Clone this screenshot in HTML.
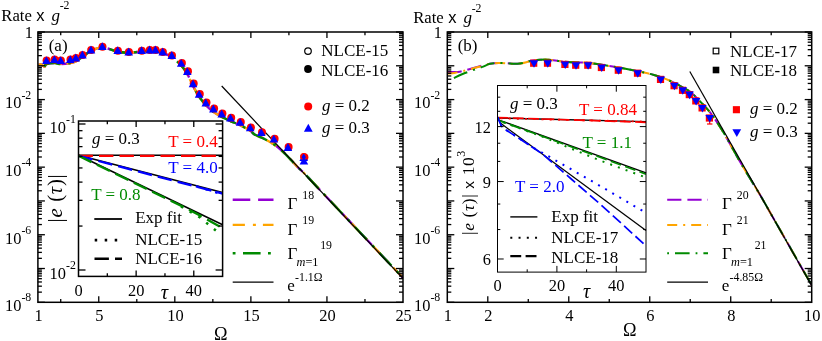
<!DOCTYPE html>
<html><head><meta charset="utf-8"><title>chart</title>
<style>html,body{margin:0;padding:0;background:#fff;}svg{display:block;will-change:transform;}</style></head><body>
<svg width="822" height="341" viewBox="0 0 822 341">
<rect x="0" y="0" width="822" height="341" fill="#fff"/>
<defs><clipPath id="clipL"><rect x="37.9" y="32.0" width="365.1" height="270.3"/></clipPath>
<clipPath id="clipR"><rect x="447.3" y="32.0" width="364.40000000000003" height="270.3"/></clipPath></defs>
<path d="M38.50,64.80 C38.92,64.75 39.97,64.20 41.00,64.50 C42.03,64.80 43.80,66.68 44.70,66.60 C45.60,66.52 44.78,64.60 46.40,64.00 C48.02,63.40 52.02,63.00 54.40,63.00 C56.78,63.00 58.05,64.00 60.70,64.00 C63.35,64.00 67.78,63.43 70.30,63.00 C72.82,62.57 73.78,62.40 75.80,61.40 C77.82,60.40 79.87,58.77 82.40,57.00 C84.93,55.23 87.68,52.38 91.00,50.80 C94.32,49.22 97.85,47.38 102.30,47.50 C106.75,47.62 113.30,50.62 117.70,51.50 C122.10,52.38 124.72,52.80 128.70,52.80 C132.68,52.80 138.12,51.83 141.60,51.50 C145.08,51.17 147.30,50.92 149.60,50.80 C151.90,50.68 153.22,50.47 155.40,50.80 C157.58,51.13 159.97,51.75 162.70,52.80 C165.43,53.85 168.72,54.98 171.80,57.10 C174.88,59.22 178.62,62.70 181.20,65.50 C183.78,68.30 185.33,70.48 187.30,73.90 C189.27,77.32 191.03,82.23 193.00,86.00 C194.97,89.77 196.97,93.30 199.10,96.50 C201.23,99.70 203.42,102.63 205.80,105.20 C208.18,107.77 210.75,109.95 213.40,111.90 C216.05,113.85 218.85,115.37 221.70,116.90 C224.55,118.43 227.43,119.72 230.50,121.10 C233.57,122.48 236.82,123.60 240.10,125.20 C243.38,126.80 247.80,129.15 250.20,130.70 C252.60,132.25 252.65,133.37 254.50,134.50 C256.35,135.63 259.25,136.53 261.30,137.50 C263.35,138.47 265.02,139.33 266.80,140.30 C268.58,141.27 270.25,142.22 272.00,143.30 C273.75,144.38 275.53,145.45 277.30,146.80 C279.07,148.15 280.82,149.73 282.60,151.40 C284.38,153.07 286.38,155.15 288.00,156.80 C289.62,158.45 290.63,159.52 292.30,161.30 C293.97,163.08 295.98,165.47 298.00,167.50 C300.02,169.53 300.73,169.75 304.40,173.50 C308.07,177.25 314.07,183.72 320.00,190.00 C325.93,196.28 326.10,196.48 340.00,211.20 C353.90,225.92 392.83,267.12 403.40,278.30" fill="none" stroke="#9400d3" stroke-width="2.4" stroke-dasharray="17.6 7.6" clip-path="url(#clipL)"/>
<path d="M38.50,64.80 C38.92,64.75 39.97,64.20 41.00,64.50 C42.03,64.80 43.80,66.68 44.70,66.60 C45.60,66.52 44.78,64.60 46.40,64.00 C48.02,63.40 52.02,63.00 54.40,63.00 C56.78,63.00 58.05,64.00 60.70,64.00 C63.35,64.00 67.78,63.43 70.30,63.00 C72.82,62.57 73.78,62.40 75.80,61.40 C77.82,60.40 79.87,58.77 82.40,57.00 C84.93,55.23 87.68,52.38 91.00,50.80 C94.32,49.22 97.85,47.38 102.30,47.50 C106.75,47.62 113.30,50.62 117.70,51.50 C122.10,52.38 124.72,52.80 128.70,52.80 C132.68,52.80 138.12,51.83 141.60,51.50 C145.08,51.17 147.30,50.92 149.60,50.80 C151.90,50.68 153.22,50.47 155.40,50.80 C157.58,51.13 159.97,51.75 162.70,52.80 C165.43,53.85 168.72,54.98 171.80,57.10 C174.88,59.22 178.62,62.70 181.20,65.50 C183.78,68.30 185.33,70.48 187.30,73.90 C189.27,77.32 191.03,82.23 193.00,86.00 C194.97,89.77 196.97,93.30 199.10,96.50 C201.23,99.70 203.42,102.63 205.80,105.20 C208.18,107.77 210.75,109.95 213.40,111.90 C216.05,113.85 218.85,115.37 221.70,116.90 C224.55,118.43 227.43,119.72 230.50,121.10 C233.57,122.48 236.82,123.60 240.10,125.20 C243.38,126.80 247.80,129.15 250.20,130.70 C252.60,132.25 252.65,133.37 254.50,134.50 C256.35,135.63 259.25,136.53 261.30,137.50 C263.35,138.47 265.02,139.33 266.80,140.30 C268.58,141.27 270.25,142.22 272.00,143.30 C273.75,144.38 275.53,145.45 277.30,146.80 C279.07,148.15 280.82,149.73 282.60,151.40 C284.38,153.07 286.38,155.15 288.00,156.80 C289.62,158.45 290.63,159.52 292.30,161.30 C293.97,163.08 295.98,165.47 298.00,167.50 C300.02,169.53 300.73,169.75 304.40,173.50 C308.07,177.25 314.07,183.72 320.00,190.00 C325.93,196.28 326.10,196.48 340.00,211.20 C353.90,225.92 392.83,267.12 403.40,278.30" fill="none" stroke="#ffa500" stroke-width="2.4" stroke-dasharray="12.3 7.5 2.8 7.5" clip-path="url(#clipL)"/>
<path d="M44.70,66.60 C44.98,66.17 44.78,64.60 46.40,64.00 C48.02,63.40 52.02,63.00 54.40,63.00 C56.78,63.00 58.05,64.00 60.70,64.00 C63.35,64.00 67.78,63.43 70.30,63.00 C72.82,62.57 73.78,62.40 75.80,61.40 C77.82,60.40 79.87,58.77 82.40,57.00 C84.93,55.23 87.68,52.38 91.00,50.80 C94.32,49.22 97.85,47.38 102.30,47.50 C106.75,47.62 113.30,50.62 117.70,51.50 C122.10,52.38 124.72,52.80 128.70,52.80 C132.68,52.80 138.12,51.83 141.60,51.50 C145.08,51.17 147.30,50.92 149.60,50.80 C151.90,50.68 153.22,50.47 155.40,50.80 C157.58,51.13 159.97,51.75 162.70,52.80 C165.43,53.85 168.72,54.98 171.80,57.10 C174.88,59.22 178.62,62.70 181.20,65.50 C183.78,68.30 185.33,70.48 187.30,73.90 C189.27,77.32 191.03,82.23 193.00,86.00 C194.97,89.77 196.97,93.30 199.10,96.50 C201.23,99.70 203.42,102.63 205.80,105.20 C208.18,107.77 210.75,109.95 213.40,111.90 C216.05,113.85 218.85,115.37 221.70,116.90 C224.55,118.43 227.43,119.72 230.50,121.10 C233.57,122.48 236.82,123.60 240.10,125.20 C243.38,126.80 247.80,129.15 250.20,130.70 C252.60,132.25 252.65,133.37 254.50,134.50 C256.35,135.63 259.25,136.53 261.30,137.50 C263.35,138.47 265.02,139.33 266.80,140.30 C268.58,141.27 270.25,142.22 272.00,143.30 C273.75,144.38 275.53,145.45 277.30,146.80 C279.07,148.15 280.82,149.73 282.60,151.40 C284.38,153.07 286.38,155.15 288.00,156.80 C289.62,158.45 290.63,159.52 292.30,161.30 C293.97,163.08 295.98,165.47 298.00,167.50 C300.02,169.53 300.73,169.75 304.40,173.50 C308.07,177.25 314.07,183.72 320.00,190.00 C325.93,196.28 326.10,196.48 340.00,211.20 C353.90,225.92 392.83,267.12 403.40,278.30" fill="none" stroke="#008b00" stroke-width="2.4" stroke-dasharray="17.6 7.5 2.8 7.5" clip-path="url(#clipL)"/>
<line x1="221.70" y1="86.00" x2="403.00" y2="278.40" stroke="#000" stroke-width="1.2" />
<circle cx="46.60" cy="60.60" r="4.0" fill="#ff0000" />
<circle cx="54.60" cy="59.60" r="4.0" fill="#ff0000" />
<circle cx="60.90" cy="60.60" r="4.0" fill="#ff0000" />
<circle cx="70.50" cy="59.60" r="4.0" fill="#ff0000" />
<circle cx="76.00" cy="58.00" r="4.0" fill="#ff0000" />
<circle cx="82.60" cy="55.00" r="4.0" fill="#ff0000" />
<circle cx="91.20" cy="50.00" r="4.0" fill="#ff0000" />
<circle cx="102.50" cy="46.70" r="4.0" fill="#ff0000" />
<circle cx="117.90" cy="50.70" r="4.0" fill="#ff0000" />
<circle cx="128.90" cy="52.00" r="4.0" fill="#ff0000" />
<circle cx="141.80" cy="50.70" r="4.0" fill="#ff0000" />
<circle cx="149.80" cy="50.00" r="4.0" fill="#ff0000" />
<circle cx="155.60" cy="50.00" r="4.0" fill="#ff0000" />
<circle cx="162.90" cy="52.00" r="4.0" fill="#ff0000" />
<circle cx="172.00" cy="55.50" r="4.0" fill="#ff0000" />
<circle cx="181.90" cy="62.90" r="4.0" fill="#ff0000" />
<circle cx="188.00" cy="71.30" r="4.0" fill="#ff0000" />
<circle cx="193.70" cy="83.40" r="4.0" fill="#ff0000" />
<circle cx="199.80" cy="93.90" r="4.0" fill="#ff0000" />
<circle cx="206.50" cy="102.60" r="4.0" fill="#ff0000" />
<circle cx="214.10" cy="108.60" r="4.0" fill="#ff0000" />
<circle cx="222.40" cy="113.60" r="4.0" fill="#ff0000" />
<circle cx="231.20" cy="117.80" r="4.0" fill="#ff0000" />
<circle cx="240.80" cy="121.90" r="4.0" fill="#ff0000" />
<circle cx="250.90" cy="127.40" r="4.0" fill="#ff0000" />
<circle cx="262.00" cy="132.20" r="4.0" fill="#ff0000" />
<circle cx="274.60" cy="138.70" r="4.0" fill="#ff0000" />
<circle cx="288.60" cy="147.10" r="4.0" fill="#ff0000" />
<circle cx="304.40" cy="157.20" r="4.0" fill="#ff0000" />
<polygon points="46.40,56.20 42.10,63.98 50.70,63.98" fill="#0000ff" />
<polygon points="54.40,55.20 50.10,62.98 58.70,62.98" fill="#0000ff" />
<polygon points="60.70,56.20 56.40,63.98 65.00,63.98" fill="#0000ff" />
<polygon points="70.30,55.20 66.00,62.98 74.60,62.98" fill="#0000ff" />
<polygon points="75.80,53.60 71.50,61.38 80.10,61.38" fill="#0000ff" />
<polygon points="82.40,50.60 78.10,58.38 86.70,58.38" fill="#0000ff" />
<polygon points="91.00,45.60 86.70,53.38 95.30,53.38" fill="#0000ff" />
<polygon points="102.30,42.30 98.00,50.08 106.60,50.08" fill="#0000ff" />
<polygon points="117.70,46.30 113.40,54.08 122.00,54.08" fill="#0000ff" />
<polygon points="128.70,47.60 124.40,55.38 133.00,55.38" fill="#0000ff" />
<polygon points="141.60,46.30 137.30,54.08 145.90,54.08" fill="#0000ff" />
<polygon points="149.60,45.60 145.30,53.38 153.90,53.38" fill="#0000ff" />
<polygon points="155.40,45.60 151.10,53.38 159.70,53.38" fill="#0000ff" />
<polygon points="162.70,47.60 158.40,55.38 167.00,55.38" fill="#0000ff" />
<polygon points="171.80,51.10 167.50,58.88 176.10,58.88" fill="#0000ff" />
<polygon points="181.20,58.90 176.90,66.68 185.50,66.68" fill="#0000ff" />
<polygon points="187.30,67.30 183.00,75.08 191.60,75.08" fill="#0000ff" />
<polygon points="193.00,79.40 188.70,87.18 197.30,87.18" fill="#0000ff" />
<polygon points="199.10,89.90 194.80,97.68 203.40,97.68" fill="#0000ff" />
<polygon points="205.80,98.60 201.50,106.38 210.10,106.38" fill="#0000ff" />
<polygon points="213.40,104.60 209.10,112.38 217.70,112.38" fill="#0000ff" />
<polygon points="221.70,109.60 217.40,117.38 226.00,117.38" fill="#0000ff" />
<polygon points="230.50,113.80 226.20,121.58 234.80,121.58" fill="#0000ff" />
<polygon points="240.10,117.90 235.80,125.68 244.40,125.68" fill="#0000ff" />
<polygon points="250.20,123.40 245.90,131.18 254.50,131.18" fill="#0000ff" />
<polygon points="261.30,128.20 257.00,135.98 265.60,135.98" fill="#0000ff" />
<polygon points="273.90,134.70 269.60,142.48 278.20,142.48" fill="#0000ff" />
<polygon points="287.90,143.10 283.60,150.88 292.20,150.88" fill="#0000ff" />
<polygon points="303.70,153.20 299.40,160.98 308.00,160.98" fill="#0000ff" />
<circle cx="303.70" cy="156.50" r="3.0" fill="none" stroke="#ff0000" stroke-width="1.2"/>
<polygon points="303.90,156.70 299.60,164.48 308.20,164.48" fill="#0000ff" />
<rect x="37.90" y="32.00" width="365.10" height="270.30" fill="none" stroke="#000" stroke-width="1.5"/>
<line x1="37.90" y1="32.00" x2="44.90" y2="32.00" stroke="#000" stroke-width="1.3" />
<line x1="403.00" y1="32.00" x2="396.00" y2="32.00" stroke="#000" stroke-width="1.3" />
<line x1="37.90" y1="65.79" x2="44.90" y2="65.79" stroke="#000" stroke-width="1.3" />
<line x1="403.00" y1="65.79" x2="396.00" y2="65.79" stroke="#000" stroke-width="1.3" />
<line x1="37.90" y1="55.62" x2="41.90" y2="55.62" stroke="#000" stroke-width="1.3" />
<line x1="403.00" y1="55.62" x2="399.00" y2="55.62" stroke="#000" stroke-width="1.3" />
<line x1="37.90" y1="49.67" x2="41.90" y2="49.67" stroke="#000" stroke-width="1.3" />
<line x1="403.00" y1="49.67" x2="399.00" y2="49.67" stroke="#000" stroke-width="1.3" />
<line x1="37.90" y1="45.45" x2="41.90" y2="45.45" stroke="#000" stroke-width="1.3" />
<line x1="403.00" y1="45.45" x2="399.00" y2="45.45" stroke="#000" stroke-width="1.3" />
<line x1="37.90" y1="42.17" x2="41.90" y2="42.17" stroke="#000" stroke-width="1.3" />
<line x1="403.00" y1="42.17" x2="399.00" y2="42.17" stroke="#000" stroke-width="1.3" />
<line x1="37.90" y1="39.50" x2="41.90" y2="39.50" stroke="#000" stroke-width="1.3" />
<line x1="403.00" y1="39.50" x2="399.00" y2="39.50" stroke="#000" stroke-width="1.3" />
<line x1="37.90" y1="37.23" x2="41.90" y2="37.23" stroke="#000" stroke-width="1.3" />
<line x1="403.00" y1="37.23" x2="399.00" y2="37.23" stroke="#000" stroke-width="1.3" />
<line x1="37.90" y1="35.27" x2="41.90" y2="35.27" stroke="#000" stroke-width="1.3" />
<line x1="403.00" y1="35.27" x2="399.00" y2="35.27" stroke="#000" stroke-width="1.3" />
<line x1="37.90" y1="33.55" x2="41.90" y2="33.55" stroke="#000" stroke-width="1.3" />
<line x1="403.00" y1="33.55" x2="399.00" y2="33.55" stroke="#000" stroke-width="1.3" />
<line x1="37.90" y1="99.58" x2="44.90" y2="99.58" stroke="#000" stroke-width="1.3" />
<line x1="403.00" y1="99.58" x2="396.00" y2="99.58" stroke="#000" stroke-width="1.3" />
<line x1="37.90" y1="89.40" x2="41.90" y2="89.40" stroke="#000" stroke-width="1.3" />
<line x1="403.00" y1="89.40" x2="399.00" y2="89.40" stroke="#000" stroke-width="1.3" />
<line x1="37.90" y1="83.45" x2="41.90" y2="83.45" stroke="#000" stroke-width="1.3" />
<line x1="403.00" y1="83.45" x2="399.00" y2="83.45" stroke="#000" stroke-width="1.3" />
<line x1="37.90" y1="79.23" x2="41.90" y2="79.23" stroke="#000" stroke-width="1.3" />
<line x1="403.00" y1="79.23" x2="399.00" y2="79.23" stroke="#000" stroke-width="1.3" />
<line x1="37.90" y1="75.96" x2="41.90" y2="75.96" stroke="#000" stroke-width="1.3" />
<line x1="403.00" y1="75.96" x2="399.00" y2="75.96" stroke="#000" stroke-width="1.3" />
<line x1="37.90" y1="73.28" x2="41.90" y2="73.28" stroke="#000" stroke-width="1.3" />
<line x1="403.00" y1="73.28" x2="399.00" y2="73.28" stroke="#000" stroke-width="1.3" />
<line x1="37.90" y1="71.02" x2="41.90" y2="71.02" stroke="#000" stroke-width="1.3" />
<line x1="403.00" y1="71.02" x2="399.00" y2="71.02" stroke="#000" stroke-width="1.3" />
<line x1="37.90" y1="69.06" x2="41.90" y2="69.06" stroke="#000" stroke-width="1.3" />
<line x1="403.00" y1="69.06" x2="399.00" y2="69.06" stroke="#000" stroke-width="1.3" />
<line x1="37.90" y1="67.33" x2="41.90" y2="67.33" stroke="#000" stroke-width="1.3" />
<line x1="403.00" y1="67.33" x2="399.00" y2="67.33" stroke="#000" stroke-width="1.3" />
<line x1="37.90" y1="133.36" x2="44.90" y2="133.36" stroke="#000" stroke-width="1.3" />
<line x1="403.00" y1="133.36" x2="396.00" y2="133.36" stroke="#000" stroke-width="1.3" />
<line x1="37.90" y1="123.19" x2="41.90" y2="123.19" stroke="#000" stroke-width="1.3" />
<line x1="403.00" y1="123.19" x2="399.00" y2="123.19" stroke="#000" stroke-width="1.3" />
<line x1="37.90" y1="117.24" x2="41.90" y2="117.24" stroke="#000" stroke-width="1.3" />
<line x1="403.00" y1="117.24" x2="399.00" y2="117.24" stroke="#000" stroke-width="1.3" />
<line x1="37.90" y1="113.02" x2="41.90" y2="113.02" stroke="#000" stroke-width="1.3" />
<line x1="403.00" y1="113.02" x2="399.00" y2="113.02" stroke="#000" stroke-width="1.3" />
<line x1="37.90" y1="109.75" x2="41.90" y2="109.75" stroke="#000" stroke-width="1.3" />
<line x1="403.00" y1="109.75" x2="399.00" y2="109.75" stroke="#000" stroke-width="1.3" />
<line x1="37.90" y1="107.07" x2="41.90" y2="107.07" stroke="#000" stroke-width="1.3" />
<line x1="403.00" y1="107.07" x2="399.00" y2="107.07" stroke="#000" stroke-width="1.3" />
<line x1="37.90" y1="104.81" x2="41.90" y2="104.81" stroke="#000" stroke-width="1.3" />
<line x1="403.00" y1="104.81" x2="399.00" y2="104.81" stroke="#000" stroke-width="1.3" />
<line x1="37.90" y1="102.85" x2="41.90" y2="102.85" stroke="#000" stroke-width="1.3" />
<line x1="403.00" y1="102.85" x2="399.00" y2="102.85" stroke="#000" stroke-width="1.3" />
<line x1="37.90" y1="101.12" x2="41.90" y2="101.12" stroke="#000" stroke-width="1.3" />
<line x1="403.00" y1="101.12" x2="399.00" y2="101.12" stroke="#000" stroke-width="1.3" />
<line x1="37.90" y1="167.15" x2="44.90" y2="167.15" stroke="#000" stroke-width="1.3" />
<line x1="403.00" y1="167.15" x2="396.00" y2="167.15" stroke="#000" stroke-width="1.3" />
<line x1="37.90" y1="156.98" x2="41.90" y2="156.98" stroke="#000" stroke-width="1.3" />
<line x1="403.00" y1="156.98" x2="399.00" y2="156.98" stroke="#000" stroke-width="1.3" />
<line x1="37.90" y1="151.03" x2="41.90" y2="151.03" stroke="#000" stroke-width="1.3" />
<line x1="403.00" y1="151.03" x2="399.00" y2="151.03" stroke="#000" stroke-width="1.3" />
<line x1="37.90" y1="146.81" x2="41.90" y2="146.81" stroke="#000" stroke-width="1.3" />
<line x1="403.00" y1="146.81" x2="399.00" y2="146.81" stroke="#000" stroke-width="1.3" />
<line x1="37.90" y1="143.53" x2="41.90" y2="143.53" stroke="#000" stroke-width="1.3" />
<line x1="403.00" y1="143.53" x2="399.00" y2="143.53" stroke="#000" stroke-width="1.3" />
<line x1="37.90" y1="140.86" x2="41.90" y2="140.86" stroke="#000" stroke-width="1.3" />
<line x1="403.00" y1="140.86" x2="399.00" y2="140.86" stroke="#000" stroke-width="1.3" />
<line x1="37.90" y1="138.60" x2="41.90" y2="138.60" stroke="#000" stroke-width="1.3" />
<line x1="403.00" y1="138.60" x2="399.00" y2="138.60" stroke="#000" stroke-width="1.3" />
<line x1="37.90" y1="136.64" x2="41.90" y2="136.64" stroke="#000" stroke-width="1.3" />
<line x1="403.00" y1="136.64" x2="399.00" y2="136.64" stroke="#000" stroke-width="1.3" />
<line x1="37.90" y1="134.91" x2="41.90" y2="134.91" stroke="#000" stroke-width="1.3" />
<line x1="403.00" y1="134.91" x2="399.00" y2="134.91" stroke="#000" stroke-width="1.3" />
<line x1="37.90" y1="200.94" x2="44.90" y2="200.94" stroke="#000" stroke-width="1.3" />
<line x1="403.00" y1="200.94" x2="396.00" y2="200.94" stroke="#000" stroke-width="1.3" />
<line x1="37.90" y1="190.77" x2="41.90" y2="190.77" stroke="#000" stroke-width="1.3" />
<line x1="403.00" y1="190.77" x2="399.00" y2="190.77" stroke="#000" stroke-width="1.3" />
<line x1="37.90" y1="184.82" x2="41.90" y2="184.82" stroke="#000" stroke-width="1.3" />
<line x1="403.00" y1="184.82" x2="399.00" y2="184.82" stroke="#000" stroke-width="1.3" />
<line x1="37.90" y1="180.60" x2="41.90" y2="180.60" stroke="#000" stroke-width="1.3" />
<line x1="403.00" y1="180.60" x2="399.00" y2="180.60" stroke="#000" stroke-width="1.3" />
<line x1="37.90" y1="177.32" x2="41.90" y2="177.32" stroke="#000" stroke-width="1.3" />
<line x1="403.00" y1="177.32" x2="399.00" y2="177.32" stroke="#000" stroke-width="1.3" />
<line x1="37.90" y1="174.65" x2="41.90" y2="174.65" stroke="#000" stroke-width="1.3" />
<line x1="403.00" y1="174.65" x2="399.00" y2="174.65" stroke="#000" stroke-width="1.3" />
<line x1="37.90" y1="172.38" x2="41.90" y2="172.38" stroke="#000" stroke-width="1.3" />
<line x1="403.00" y1="172.38" x2="399.00" y2="172.38" stroke="#000" stroke-width="1.3" />
<line x1="37.90" y1="170.42" x2="41.90" y2="170.42" stroke="#000" stroke-width="1.3" />
<line x1="403.00" y1="170.42" x2="399.00" y2="170.42" stroke="#000" stroke-width="1.3" />
<line x1="37.90" y1="168.70" x2="41.90" y2="168.70" stroke="#000" stroke-width="1.3" />
<line x1="403.00" y1="168.70" x2="399.00" y2="168.70" stroke="#000" stroke-width="1.3" />
<line x1="37.90" y1="234.73" x2="44.90" y2="234.73" stroke="#000" stroke-width="1.3" />
<line x1="403.00" y1="234.73" x2="396.00" y2="234.73" stroke="#000" stroke-width="1.3" />
<line x1="37.90" y1="224.55" x2="41.90" y2="224.55" stroke="#000" stroke-width="1.3" />
<line x1="403.00" y1="224.55" x2="399.00" y2="224.55" stroke="#000" stroke-width="1.3" />
<line x1="37.90" y1="218.60" x2="41.90" y2="218.60" stroke="#000" stroke-width="1.3" />
<line x1="403.00" y1="218.60" x2="399.00" y2="218.60" stroke="#000" stroke-width="1.3" />
<line x1="37.90" y1="214.38" x2="41.90" y2="214.38" stroke="#000" stroke-width="1.3" />
<line x1="403.00" y1="214.38" x2="399.00" y2="214.38" stroke="#000" stroke-width="1.3" />
<line x1="37.90" y1="211.11" x2="41.90" y2="211.11" stroke="#000" stroke-width="1.3" />
<line x1="403.00" y1="211.11" x2="399.00" y2="211.11" stroke="#000" stroke-width="1.3" />
<line x1="37.90" y1="208.43" x2="41.90" y2="208.43" stroke="#000" stroke-width="1.3" />
<line x1="403.00" y1="208.43" x2="399.00" y2="208.43" stroke="#000" stroke-width="1.3" />
<line x1="37.90" y1="206.17" x2="41.90" y2="206.17" stroke="#000" stroke-width="1.3" />
<line x1="403.00" y1="206.17" x2="399.00" y2="206.17" stroke="#000" stroke-width="1.3" />
<line x1="37.90" y1="204.21" x2="41.90" y2="204.21" stroke="#000" stroke-width="1.3" />
<line x1="403.00" y1="204.21" x2="399.00" y2="204.21" stroke="#000" stroke-width="1.3" />
<line x1="37.90" y1="202.48" x2="41.90" y2="202.48" stroke="#000" stroke-width="1.3" />
<line x1="403.00" y1="202.48" x2="399.00" y2="202.48" stroke="#000" stroke-width="1.3" />
<line x1="37.90" y1="268.51" x2="44.90" y2="268.51" stroke="#000" stroke-width="1.3" />
<line x1="403.00" y1="268.51" x2="396.00" y2="268.51" stroke="#000" stroke-width="1.3" />
<line x1="37.90" y1="258.34" x2="41.90" y2="258.34" stroke="#000" stroke-width="1.3" />
<line x1="403.00" y1="258.34" x2="399.00" y2="258.34" stroke="#000" stroke-width="1.3" />
<line x1="37.90" y1="252.39" x2="41.90" y2="252.39" stroke="#000" stroke-width="1.3" />
<line x1="403.00" y1="252.39" x2="399.00" y2="252.39" stroke="#000" stroke-width="1.3" />
<line x1="37.90" y1="248.17" x2="41.90" y2="248.17" stroke="#000" stroke-width="1.3" />
<line x1="403.00" y1="248.17" x2="399.00" y2="248.17" stroke="#000" stroke-width="1.3" />
<line x1="37.90" y1="244.90" x2="41.90" y2="244.90" stroke="#000" stroke-width="1.3" />
<line x1="403.00" y1="244.90" x2="399.00" y2="244.90" stroke="#000" stroke-width="1.3" />
<line x1="37.90" y1="242.22" x2="41.90" y2="242.22" stroke="#000" stroke-width="1.3" />
<line x1="403.00" y1="242.22" x2="399.00" y2="242.22" stroke="#000" stroke-width="1.3" />
<line x1="37.90" y1="239.96" x2="41.90" y2="239.96" stroke="#000" stroke-width="1.3" />
<line x1="403.00" y1="239.96" x2="399.00" y2="239.96" stroke="#000" stroke-width="1.3" />
<line x1="37.90" y1="238.00" x2="41.90" y2="238.00" stroke="#000" stroke-width="1.3" />
<line x1="403.00" y1="238.00" x2="399.00" y2="238.00" stroke="#000" stroke-width="1.3" />
<line x1="37.90" y1="236.27" x2="41.90" y2="236.27" stroke="#000" stroke-width="1.3" />
<line x1="403.00" y1="236.27" x2="399.00" y2="236.27" stroke="#000" stroke-width="1.3" />
<line x1="37.90" y1="302.30" x2="44.90" y2="302.30" stroke="#000" stroke-width="1.3" />
<line x1="403.00" y1="302.30" x2="396.00" y2="302.30" stroke="#000" stroke-width="1.3" />
<line x1="37.90" y1="292.13" x2="41.90" y2="292.13" stroke="#000" stroke-width="1.3" />
<line x1="403.00" y1="292.13" x2="399.00" y2="292.13" stroke="#000" stroke-width="1.3" />
<line x1="37.90" y1="286.18" x2="41.90" y2="286.18" stroke="#000" stroke-width="1.3" />
<line x1="403.00" y1="286.18" x2="399.00" y2="286.18" stroke="#000" stroke-width="1.3" />
<line x1="37.90" y1="281.96" x2="41.90" y2="281.96" stroke="#000" stroke-width="1.3" />
<line x1="403.00" y1="281.96" x2="399.00" y2="281.96" stroke="#000" stroke-width="1.3" />
<line x1="37.90" y1="278.68" x2="41.90" y2="278.68" stroke="#000" stroke-width="1.3" />
<line x1="403.00" y1="278.68" x2="399.00" y2="278.68" stroke="#000" stroke-width="1.3" />
<line x1="37.90" y1="276.01" x2="41.90" y2="276.01" stroke="#000" stroke-width="1.3" />
<line x1="403.00" y1="276.01" x2="399.00" y2="276.01" stroke="#000" stroke-width="1.3" />
<line x1="37.90" y1="273.75" x2="41.90" y2="273.75" stroke="#000" stroke-width="1.3" />
<line x1="403.00" y1="273.75" x2="399.00" y2="273.75" stroke="#000" stroke-width="1.3" />
<line x1="37.90" y1="271.79" x2="41.90" y2="271.79" stroke="#000" stroke-width="1.3" />
<line x1="403.00" y1="271.79" x2="399.00" y2="271.79" stroke="#000" stroke-width="1.3" />
<line x1="37.90" y1="270.06" x2="41.90" y2="270.06" stroke="#000" stroke-width="1.3" />
<line x1="403.00" y1="270.06" x2="399.00" y2="270.06" stroke="#000" stroke-width="1.3" />
<line x1="98.75" y1="302.30" x2="98.75" y2="296.30" stroke="#000" stroke-width="1.3" />
<line x1="98.75" y1="32.00" x2="98.75" y2="38.00" stroke="#000" stroke-width="1.3" />
<line x1="174.81" y1="302.30" x2="174.81" y2="296.30" stroke="#000" stroke-width="1.3" />
<line x1="174.81" y1="32.00" x2="174.81" y2="38.00" stroke="#000" stroke-width="1.3" />
<line x1="250.88" y1="302.30" x2="250.88" y2="296.30" stroke="#000" stroke-width="1.3" />
<line x1="250.88" y1="32.00" x2="250.88" y2="38.00" stroke="#000" stroke-width="1.3" />
<line x1="326.94" y1="302.30" x2="326.94" y2="296.30" stroke="#000" stroke-width="1.3" />
<line x1="326.94" y1="32.00" x2="326.94" y2="38.00" stroke="#000" stroke-width="1.3" />
<line x1="60.72" y1="302.30" x2="60.72" y2="299.10" stroke="#000" stroke-width="1.3" />
<line x1="60.72" y1="32.00" x2="60.72" y2="35.20" stroke="#000" stroke-width="1.3" />
<line x1="136.78" y1="302.30" x2="136.78" y2="299.10" stroke="#000" stroke-width="1.3" />
<line x1="136.78" y1="32.00" x2="136.78" y2="35.20" stroke="#000" stroke-width="1.3" />
<line x1="212.84" y1="302.30" x2="212.84" y2="299.10" stroke="#000" stroke-width="1.3" />
<line x1="212.84" y1="32.00" x2="212.84" y2="35.20" stroke="#000" stroke-width="1.3" />
<line x1="288.91" y1="302.30" x2="288.91" y2="299.10" stroke="#000" stroke-width="1.3" />
<line x1="288.91" y1="32.00" x2="288.91" y2="35.20" stroke="#000" stroke-width="1.3" />
<line x1="364.97" y1="302.30" x2="364.97" y2="299.10" stroke="#000" stroke-width="1.3" />
<line x1="364.97" y1="32.00" x2="364.97" y2="35.20" stroke="#000" stroke-width="1.3" />
<text x="38.50" y="320.60" font-family='"Liberation Serif", serif' font-size="16.4" fill="#000" text-anchor="middle"  >1</text>
<text x="99.35" y="320.60" font-family='"Liberation Serif", serif' font-size="16.4" fill="#000" text-anchor="middle"  >5</text>
<text x="175.41" y="320.60" font-family='"Liberation Serif", serif' font-size="16.4" fill="#000" text-anchor="middle"  >10</text>
<text x="251.48" y="320.60" font-family='"Liberation Serif", serif' font-size="16.4" fill="#000" text-anchor="middle"  >15</text>
<text x="327.54" y="320.60" font-family='"Liberation Serif", serif' font-size="16.4" fill="#000" text-anchor="middle"  >20</text>
<text x="403.60" y="320.60" font-family='"Liberation Serif", serif' font-size="16.4" fill="#000" text-anchor="middle"  >25</text>
<text x="33.00" y="37.80" font-family='"Liberation Serif", serif' font-size="16.4" fill="#000" text-anchor="end"  >1</text>
<text x="21.40" y="108.48" font-family='"Liberation Serif", serif' font-size="16.4" fill="#000" text-anchor="end"  >10</text>
<text x="21.40" y="98.58" font-family='"Liberation Serif", serif' font-size="11.8" fill="#000" text-anchor="start"  >-2</text>
<text x="21.40" y="176.05" font-family='"Liberation Serif", serif' font-size="16.4" fill="#000" text-anchor="end"  >10</text>
<text x="21.40" y="166.15" font-family='"Liberation Serif", serif' font-size="11.8" fill="#000" text-anchor="start"  >-4</text>
<text x="21.40" y="243.63" font-family='"Liberation Serif", serif' font-size="16.4" fill="#000" text-anchor="end"  >10</text>
<text x="21.40" y="233.73" font-family='"Liberation Serif", serif' font-size="11.8" fill="#000" text-anchor="start"  >-6</text>
<text x="21.40" y="311.20" font-family='"Liberation Serif", serif' font-size="16.4" fill="#000" text-anchor="end"  >10</text>
<text x="21.40" y="301.30" font-family='"Liberation Serif", serif' font-size="11.8" fill="#000" text-anchor="start"  >-8</text>
<text x="220.70" y="339.70" font-family='"Liberation Serif", serif' font-size="18.2" fill="#000" text-anchor="middle"  >Ω</text>
<text x="1.30" y="21.00" font-family='"Liberation Serif", serif' font-size="16.7" fill="#000" text-anchor="start"  >Rate</text>
<text x="36.20" y="21.00" font-family='"Liberation Sans", sans-serif' font-size="16.5" fill="#000" text-anchor="start"  >x</text>
<text x="51.60" y="21.00" font-family='"Liberation Serif", serif' font-size="17.0" fill="#000" text-anchor="start" font-style="italic" >g</text>
<text x="59.70" y="9.40" font-family='"Liberation Serif", serif' font-size="11.8" fill="#000" text-anchor="start"  >-2</text>
<text x="48.70" y="51.30" font-family='"Liberation Serif", serif' font-size="17.0" fill="#000" text-anchor="start"  >(a)</text>
<circle cx="308.00" cy="51.10" r="3.3" fill="#fff" stroke="#000" stroke-width="1.2"/>
<text x="321.30" y="56.30" font-family='"Liberation Serif", serif' font-size="17.0" fill="#000" text-anchor="start"  >NLCE-15</text>
<circle cx="308.00" cy="69.00" r="3.9" fill="#000" />
<text x="321.30" y="75.50" font-family='"Liberation Serif", serif' font-size="17.0" fill="#000" text-anchor="start"  >NLCE-16</text>
<circle cx="308.20" cy="106.60" r="4.0" fill="#ff0000" />
<text x="322.00" y="110.70" font-family='"Liberation Serif", serif' font-size="17.0" fill="#000" text-anchor="start"  ><tspan font-style="italic">g</tspan> = 0.2</text>
<polygon points="308.30,123.69 303.90,131.66 312.70,131.66" fill="#0000ff" />
<text x="322.00" y="132.70" font-family='"Liberation Serif", serif' font-size="17.0" fill="#000" text-anchor="start"  ><tspan font-style="italic">g</tspan> = 0.3</text>
<polyline points="232.70,199.70 273.50,199.70" fill="none" stroke="#9400d3" stroke-width="2.4" stroke-dasharray="17.6 7.8" />
<polyline points="232.70,224.90 273.50,224.90" fill="none" stroke="#ffa500" stroke-width="2.4" stroke-dasharray="12.2 8 3 7" />
<polyline points="232.70,253.20 273.50,253.20" fill="none" stroke="#008b00" stroke-width="2.4" stroke-dasharray="2.8 7.5 17.6 7.4" />
<line x1="232.70" y1="282.20" x2="273.50" y2="282.20" stroke="#000" stroke-width="1.3" />
<text x="287.50" y="209.20" font-family='"Liberation Serif", serif' font-size="17.0" fill="#000" text-anchor="start"  >Γ</text>
<text x="302.30" y="198.80" font-family='"Liberation Serif", serif' font-size="11.8" fill="#000" text-anchor="start"  >18</text>
<text x="287.50" y="234.90" font-family='"Liberation Serif", serif' font-size="17.0" fill="#000" text-anchor="start"  >Γ</text>
<text x="302.30" y="224.30" font-family='"Liberation Serif", serif' font-size="11.8" fill="#000" text-anchor="start"  >19</text>
<text x="287.50" y="259.40" font-family='"Liberation Serif", serif' font-size="17.0" fill="#000" text-anchor="start"  >Γ</text>
<text x="296.50" y="266.40" font-family='"Liberation Serif", serif' font-size="12.3" fill="#000" text-anchor="start"  ><tspan font-style="italic">m</tspan>=1</text>
<text x="320.20" y="249.30" font-family='"Liberation Serif", serif' font-size="11.8" fill="#000" text-anchor="start"  >19</text>
<text x="287.20" y="291.00" font-family='"Liberation Serif", serif' font-size="17.0" fill="#000" text-anchor="start"  >e</text>
<text x="295.10" y="281.30" font-family='"Liberation Serif", serif' font-size="11.8" fill="#000" text-anchor="start"  >-1.1Ω</text>
<rect x="78.5" y="121.0" width="144.1" height="155.39999999999998" fill="#fff"/>
<defs><clipPath id="clipLI"><rect x="78.5" y="121.0" width="144.1" height="155.39999999999998"/></clipPath></defs>
<line x1="78.50" y1="155.30" x2="222.60" y2="155.30" stroke="#000" stroke-width="1.5" />
<line x1="78.50" y1="155.30" x2="222.60" y2="192.60" stroke="#000" stroke-width="1.5" />
<line x1="78.50" y1="155.30" x2="222.60" y2="224.80" stroke="#000" stroke-width="1.5" />
<polyline points="78.50,155.80 222.60,155.80" fill="none" stroke="#ff0000" stroke-width="2.3" stroke-dasharray="14.4 6.1" clip-path="url(#clipLI)"/>
<polyline points="78.50,155.80 222.60,193.60" fill="none" stroke="#0000ff" stroke-width="2.3" stroke-dasharray="14.4 6.1" clip-path="url(#clipLI)"/>
<polyline points="196.00,186.20 222.60,194.20" fill="none" stroke="#0000ff" stroke-width="2.5" stroke-dasharray="2.5 7.5" clip-path="url(#clipLI)"/>
<polyline points="78.50,155.80 181.00,205.70 200.00,215.50 222.60,228.20" fill="none" stroke="#008b00" stroke-width="2.3" stroke-dasharray="14.4 6.1" clip-path="url(#clipLI)"/>
<polyline points="181.00,206.50 200.00,217.50 220.00,234.00" fill="none" stroke="#008b00" stroke-width="2.5" stroke-dasharray="2.5 7.5" clip-path="url(#clipLI)"/>
<rect x="78.50" y="121.00" width="144.10" height="155.40" fill="none" stroke="#000" stroke-width="1.5"/>
<line x1="78.50" y1="226.05" x2="82.50" y2="226.05" stroke="#000" stroke-width="1.3" />
<line x1="222.60" y1="226.05" x2="218.60" y2="226.05" stroke="#000" stroke-width="1.3" />
<line x1="78.50" y1="200.34" x2="82.50" y2="200.34" stroke="#000" stroke-width="1.3" />
<line x1="222.60" y1="200.34" x2="218.60" y2="200.34" stroke="#000" stroke-width="1.3" />
<line x1="78.50" y1="182.10" x2="82.50" y2="182.10" stroke="#000" stroke-width="1.3" />
<line x1="222.60" y1="182.10" x2="218.60" y2="182.10" stroke="#000" stroke-width="1.3" />
<line x1="78.50" y1="167.95" x2="82.50" y2="167.95" stroke="#000" stroke-width="1.3" />
<line x1="222.60" y1="167.95" x2="218.60" y2="167.95" stroke="#000" stroke-width="1.3" />
<line x1="78.50" y1="156.39" x2="82.50" y2="156.39" stroke="#000" stroke-width="1.3" />
<line x1="222.60" y1="156.39" x2="218.60" y2="156.39" stroke="#000" stroke-width="1.3" />
<line x1="78.50" y1="146.62" x2="82.50" y2="146.62" stroke="#000" stroke-width="1.3" />
<line x1="222.60" y1="146.62" x2="218.60" y2="146.62" stroke="#000" stroke-width="1.3" />
<line x1="78.50" y1="138.15" x2="82.50" y2="138.15" stroke="#000" stroke-width="1.3" />
<line x1="222.60" y1="138.15" x2="218.60" y2="138.15" stroke="#000" stroke-width="1.3" />
<line x1="78.50" y1="130.68" x2="82.50" y2="130.68" stroke="#000" stroke-width="1.3" />
<line x1="222.60" y1="130.68" x2="218.60" y2="130.68" stroke="#000" stroke-width="1.3" />
<line x1="78.50" y1="124.00" x2="85.50" y2="124.00" stroke="#000" stroke-width="1.3" />
<line x1="222.60" y1="124.00" x2="215.60" y2="124.00" stroke="#000" stroke-width="1.3" />
<line x1="78.50" y1="270.00" x2="85.50" y2="270.00" stroke="#000" stroke-width="1.3" />
<line x1="222.60" y1="270.00" x2="215.60" y2="270.00" stroke="#000" stroke-width="1.3" />
<line x1="136.14" y1="276.40" x2="136.14" y2="270.40" stroke="#000" stroke-width="1.3" />
<line x1="136.14" y1="121.00" x2="136.14" y2="127.00" stroke="#000" stroke-width="1.3" />
<line x1="193.78" y1="276.40" x2="193.78" y2="270.40" stroke="#000" stroke-width="1.3" />
<line x1="193.78" y1="121.00" x2="193.78" y2="127.00" stroke="#000" stroke-width="1.3" />
<line x1="107.32" y1="276.40" x2="107.32" y2="273.20" stroke="#000" stroke-width="1.3" />
<line x1="107.32" y1="121.00" x2="107.32" y2="124.20" stroke="#000" stroke-width="1.3" />
<line x1="164.96" y1="276.40" x2="164.96" y2="273.20" stroke="#000" stroke-width="1.3" />
<line x1="164.96" y1="121.00" x2="164.96" y2="124.20" stroke="#000" stroke-width="1.3" />
<text x="78.50" y="295.50" font-family='"Liberation Serif", serif' font-size="16.4" fill="#000" text-anchor="middle"  >0</text>
<text x="136.14" y="295.50" font-family='"Liberation Serif", serif' font-size="16.4" fill="#000" text-anchor="middle"  >20</text>
<text x="193.78" y="295.50" font-family='"Liberation Serif", serif' font-size="16.4" fill="#000" text-anchor="middle"  >40</text>
<text x="164.50" y="299.00" font-family='"Liberation Serif", serif' font-size="20.5" fill="#000" text-anchor="middle" font-style="italic" >τ</text>
<text x="66.00" y="132.60" font-family='"Liberation Serif", serif' font-size="16.4" fill="#000" text-anchor="end"  >10</text>
<text x="66.00" y="122.80" font-family='"Liberation Serif", serif' font-size="11.8" fill="#000" text-anchor="start"  >-1</text>
<text x="66.00" y="278.70" font-family='"Liberation Serif", serif' font-size="16.4" fill="#000" text-anchor="end"  >10</text>
<text x="66.00" y="268.80" font-family='"Liberation Serif", serif' font-size="11.8" fill="#000" text-anchor="start"  >-2</text>
<text transform="translate(61.5,198) rotate(-90)" letter-spacing="0.8" font-family='"Liberation Serif", serif' font-size="20.5" text-anchor="middle">|<tspan font-style="italic">e</tspan> (<tspan font-style="italic">τ</tspan>)|</text>
<text x="92.00" y="143.70" font-family='"Liberation Serif", serif' font-size="17.0" fill="#000" text-anchor="start"  ><tspan font-style="italic">g</tspan> = 0.3</text>
<text x="168.30" y="146.50" font-family='"Liberation Serif", serif' font-size="17.0" fill="#ff0000" text-anchor="start"  >T = 0.4</text>
<text x="168.30" y="173.00" font-family='"Liberation Serif", serif' font-size="17.0" fill="#0000ff" text-anchor="start"  >T = 4.0</text>
<text x="91.20" y="200.40" font-family='"Liberation Serif", serif' font-size="17.0" fill="#008b00" text-anchor="start"  >T = 0.8</text>
<line x1="94.30" y1="219.00" x2="122.00" y2="219.00" stroke="#000" stroke-width="1.8" />
<text x="135.20" y="223.20" font-family='"Liberation Serif", serif' font-size="17.0" fill="#000" text-anchor="start"  >Exp fit</text>
<polyline points="94.70,240.10 123.00,240.10" fill="none" stroke="#000" stroke-width="2.6" stroke-dasharray="2.5 7.5" />
<text x="135.20" y="245.40" font-family='"Liberation Serif", serif' font-size="17.0" fill="#000" text-anchor="start"  >NLCE-15</text>
<polyline points="94.50,258.70 122.00,258.70" fill="none" stroke="#000" stroke-width="2.6" stroke-dasharray="14.4 6.1" />
<text x="135.20" y="263.80" font-family='"Liberation Serif", serif' font-size="17.0" fill="#000" text-anchor="start"  >NLCE-16</text>
<path d="M447.30,72.10 C449.02,72.08 454.98,72.18 457.60,72.00 C460.22,71.82 461.05,71.47 463.00,71.00 C464.95,70.53 466.78,69.92 469.30,69.20 C471.82,68.48 474.67,67.60 478.10,66.70 C481.53,65.80 486.47,64.42 489.90,63.80 C493.33,63.18 495.78,63.08 498.70,63.00 C501.62,62.92 504.97,63.17 507.40,63.30 C509.83,63.43 511.20,63.77 513.30,63.80 C515.40,63.83 517.72,63.80 520.00,63.50 C522.28,63.20 525.17,62.45 527.00,62.00 C528.83,61.55 528.88,61.17 531.00,60.80 C533.12,60.43 536.78,59.98 539.70,59.80 C542.62,59.62 545.38,59.50 548.50,59.70 C551.62,59.90 555.62,60.65 558.40,61.00 C561.18,61.35 562.27,61.55 565.20,61.80 C568.13,62.05 572.18,62.33 576.00,62.50 C579.82,62.67 583.82,62.42 588.10,62.80 C592.38,63.18 596.62,64.02 601.70,64.80 C606.78,65.58 612.58,66.43 618.60,67.50 C624.62,68.57 631.90,69.95 637.80,71.20 C643.70,72.45 648.93,73.53 654.00,75.00 C659.07,76.47 663.88,78.20 668.20,80.00 C672.52,81.80 676.18,83.80 679.90,85.80 C683.62,87.80 687.37,89.63 690.50,92.00 C693.63,94.37 696.12,97.40 698.70,100.00 C701.28,102.60 703.78,105.13 706.00,107.60 C708.22,110.07 710.03,112.15 712.00,114.80 C713.97,117.45 715.83,120.47 717.80,123.50 C719.77,126.53 721.68,129.45 723.80,133.00 C725.92,136.55 728.13,140.58 730.50,144.80 C732.87,149.02 734.92,152.97 738.00,158.30 C741.08,163.63 745.33,170.72 749.00,176.80 C752.67,182.88 755.67,187.43 760.00,194.80 C764.33,202.17 766.35,205.87 775.00,221.00 C783.65,236.13 805.75,274.83 811.90,285.60" fill="none" stroke="#9400d3" stroke-width="2.0" stroke-dasharray="14.5 6" clip-path="url(#clipR)"/>
<path d="M447.30,73.60 C448.53,73.48 452.25,73.28 454.70,72.90 C457.15,72.52 459.57,71.87 462.00,71.30 C464.43,70.73 466.62,70.22 469.30,69.50 C471.98,68.78 474.67,67.95 478.10,67.00 C481.53,66.05 486.47,64.47 489.90,63.80 C493.33,63.13 495.78,63.08 498.70,63.00 C501.62,62.92 504.97,63.17 507.40,63.30 C509.83,63.43 511.20,63.77 513.30,63.80 C515.40,63.83 517.72,63.80 520.00,63.50 C522.28,63.20 525.17,62.45 527.00,62.00 C528.83,61.55 528.88,61.17 531.00,60.80 C533.12,60.43 536.78,59.98 539.70,59.80 C542.62,59.62 545.38,59.50 548.50,59.70 C551.62,59.90 555.62,60.65 558.40,61.00 C561.18,61.35 562.27,61.55 565.20,61.80 C568.13,62.05 572.18,62.33 576.00,62.50 C579.82,62.67 583.82,62.42 588.10,62.80 C592.38,63.18 596.62,64.02 601.70,64.80 C606.78,65.58 612.58,66.43 618.60,67.50 C624.62,68.57 631.90,69.95 637.80,71.20 C643.70,72.45 648.93,73.53 654.00,75.00 C659.07,76.47 663.88,78.20 668.20,80.00 C672.52,81.80 676.18,83.80 679.90,85.80 C683.62,87.80 687.37,89.63 690.50,92.00 C693.63,94.37 696.12,97.40 698.70,100.00 C701.28,102.60 703.78,105.13 706.00,107.60 C708.22,110.07 710.03,112.15 712.00,114.80 C713.97,117.45 715.83,120.47 717.80,123.50 C719.77,126.53 721.68,129.45 723.80,133.00 C725.92,136.55 728.13,140.58 730.50,144.80 C732.87,149.02 734.92,152.97 738.00,158.30 C741.08,163.63 745.33,170.72 749.00,176.80 C752.67,182.88 755.67,187.43 760.00,194.80 C764.33,202.17 766.35,205.87 775.00,221.00 C783.65,236.13 805.75,274.83 811.90,285.60" fill="none" stroke="#ffa500" stroke-width="2.0" stroke-dasharray="10.3 6 2 6" clip-path="url(#clipR)"/>
<path d="M453.90,78.00 C455.25,77.38 458.70,75.65 462.00,74.30 C465.30,72.95 470.28,71.13 473.70,69.90 C477.12,68.67 479.80,67.92 482.50,66.90 C485.20,65.88 487.20,64.45 489.90,63.80 C492.60,63.15 495.78,63.08 498.70,63.00 C501.62,62.92 504.97,63.17 507.40,63.30 C509.83,63.43 511.20,63.77 513.30,63.80 C515.40,63.83 517.72,63.80 520.00,63.50 C522.28,63.20 525.17,62.45 527.00,62.00 C528.83,61.55 528.88,61.17 531.00,60.80 C533.12,60.43 536.78,59.98 539.70,59.80 C542.62,59.62 545.38,59.50 548.50,59.70 C551.62,59.90 555.62,60.65 558.40,61.00 C561.18,61.35 562.27,61.55 565.20,61.80 C568.13,62.05 572.18,62.33 576.00,62.50 C579.82,62.67 583.82,62.42 588.10,62.80 C592.38,63.18 596.62,64.02 601.70,64.80 C606.78,65.58 612.58,66.43 618.60,67.50 C624.62,68.57 631.90,69.95 637.80,71.20 C643.70,72.45 648.93,73.53 654.00,75.00 C659.07,76.47 663.88,78.20 668.20,80.00 C672.52,81.80 676.18,83.80 679.90,85.80 C683.62,87.80 687.37,89.63 690.50,92.00 C693.63,94.37 696.12,97.40 698.70,100.00 C701.28,102.60 703.78,105.13 706.00,107.60 C708.22,110.07 710.03,112.15 712.00,114.80 C713.97,117.45 715.83,120.47 717.80,123.50 C719.77,126.53 721.68,129.45 723.80,133.00 C725.92,136.55 728.13,140.58 730.50,144.80 C732.87,149.02 734.92,152.97 738.00,158.30 C741.08,163.63 745.33,170.72 749.00,176.80 C752.67,182.88 755.67,187.43 760.00,194.80 C764.33,202.17 766.35,205.87 775.00,221.00 C783.65,236.13 805.75,274.83 811.90,285.60" fill="none" stroke="#008b00" stroke-width="2.0" stroke-dasharray="14.6 6 2 6" clip-path="url(#clipR)"/>
<line x1="689.80" y1="71.50" x2="811.70" y2="285.60" stroke="#000" stroke-width="1.2" />
<rect x="530.10" y="59.60" width="7.2" height="7.2" fill="#ff0000" />
<rect x="543.90" y="59.60" width="7.2" height="7.2" fill="#ff0000" />
<rect x="561.30" y="60.80" width="7.2" height="7.2" fill="#ff0000" />
<rect x="572.10" y="61.60" width="7.2" height="7.2" fill="#ff0000" />
<rect x="584.20" y="61.60" width="7.2" height="7.2" fill="#ff0000" />
<rect x="597.80" y="63.90" width="7.2" height="7.2" fill="#ff0000" />
<rect x="614.70" y="66.60" width="7.2" height="7.2" fill="#ff0000" />
<rect x="633.90" y="69.60" width="7.2" height="7.2" fill="#ff0000" />
<rect x="656.90" y="75.80" width="7.2" height="7.2" fill="#ff0000" />
<rect x="670.50" y="82.10" width="7.2" height="7.2" fill="#ff0000" />
<rect x="678.90" y="86.70" width="7.2" height="7.2" fill="#ff0000" />
<rect x="685.70" y="91.00" width="7.2" height="7.2" fill="#ff0000" />
<rect x="692.20" y="97.30" width="7.2" height="7.2" fill="#ff0000" />
<rect x="698.50" y="104.30" width="7.2" height="7.2" fill="#ff0000" />
<rect x="705.80" y="114.40" width="7.2" height="7.2" fill="#ff0000" />
<line x1="709.70" y1="117.60" x2="709.70" y2="124.00" stroke="#ff0000" stroke-width="1.2" />
<line x1="707.00" y1="124.00" x2="712.40" y2="124.00" stroke="#ff0000" stroke-width="1.2" />
<polygon points="534.00,67.74 529.70,60.22 538.30,60.22" fill="#0000ff" />
<polygon points="547.80,67.74 543.50,60.22 552.10,60.22" fill="#0000ff" />
<polygon points="565.20,68.94 560.90,61.42 569.50,61.42" fill="#0000ff" />
<polygon points="576.00,69.74 571.70,62.22 580.30,62.22" fill="#0000ff" />
<polygon points="588.10,69.74 583.80,62.22 592.40,62.22" fill="#0000ff" />
<polygon points="601.70,72.04 597.40,64.52 606.00,64.52" fill="#0000ff" />
<polygon points="618.60,74.74 614.30,67.22 622.90,67.22" fill="#0000ff" />
<polygon points="637.80,77.74 633.50,70.22 642.10,70.22" fill="#0000ff" />
<polygon points="660.80,83.94 656.50,76.42 665.10,76.42" fill="#0000ff" />
<polygon points="674.40,90.24 670.10,82.72 678.70,82.72" fill="#0000ff" />
<polygon points="682.80,94.84 678.50,87.32 687.10,87.32" fill="#0000ff" />
<polygon points="689.60,99.14 685.30,91.62 693.90,91.62" fill="#0000ff" />
<polygon points="696.10,105.44 691.80,97.92 700.40,97.92" fill="#0000ff" />
<polygon points="702.40,112.44 698.10,104.92 706.70,104.92" fill="#0000ff" />
<polygon points="709.70,122.54 705.40,115.02 714.00,115.02" fill="#0000ff" />
<rect x="447.30" y="32.00" width="364.40" height="270.30" fill="none" stroke="#000" stroke-width="1.5"/>
<line x1="447.30" y1="32.00" x2="454.30" y2="32.00" stroke="#000" stroke-width="1.3" />
<line x1="811.70" y1="32.00" x2="804.70" y2="32.00" stroke="#000" stroke-width="1.3" />
<line x1="447.30" y1="65.79" x2="454.30" y2="65.79" stroke="#000" stroke-width="1.3" />
<line x1="811.70" y1="65.79" x2="804.70" y2="65.79" stroke="#000" stroke-width="1.3" />
<line x1="447.30" y1="55.62" x2="451.30" y2="55.62" stroke="#000" stroke-width="1.3" />
<line x1="811.70" y1="55.62" x2="807.70" y2="55.62" stroke="#000" stroke-width="1.3" />
<line x1="447.30" y1="49.67" x2="451.30" y2="49.67" stroke="#000" stroke-width="1.3" />
<line x1="811.70" y1="49.67" x2="807.70" y2="49.67" stroke="#000" stroke-width="1.3" />
<line x1="447.30" y1="45.45" x2="451.30" y2="45.45" stroke="#000" stroke-width="1.3" />
<line x1="811.70" y1="45.45" x2="807.70" y2="45.45" stroke="#000" stroke-width="1.3" />
<line x1="447.30" y1="42.17" x2="451.30" y2="42.17" stroke="#000" stroke-width="1.3" />
<line x1="811.70" y1="42.17" x2="807.70" y2="42.17" stroke="#000" stroke-width="1.3" />
<line x1="447.30" y1="39.50" x2="451.30" y2="39.50" stroke="#000" stroke-width="1.3" />
<line x1="811.70" y1="39.50" x2="807.70" y2="39.50" stroke="#000" stroke-width="1.3" />
<line x1="447.30" y1="37.23" x2="451.30" y2="37.23" stroke="#000" stroke-width="1.3" />
<line x1="811.70" y1="37.23" x2="807.70" y2="37.23" stroke="#000" stroke-width="1.3" />
<line x1="447.30" y1="35.27" x2="451.30" y2="35.27" stroke="#000" stroke-width="1.3" />
<line x1="811.70" y1="35.27" x2="807.70" y2="35.27" stroke="#000" stroke-width="1.3" />
<line x1="447.30" y1="33.55" x2="451.30" y2="33.55" stroke="#000" stroke-width="1.3" />
<line x1="811.70" y1="33.55" x2="807.70" y2="33.55" stroke="#000" stroke-width="1.3" />
<line x1="447.30" y1="99.58" x2="454.30" y2="99.58" stroke="#000" stroke-width="1.3" />
<line x1="811.70" y1="99.58" x2="804.70" y2="99.58" stroke="#000" stroke-width="1.3" />
<line x1="447.30" y1="89.40" x2="451.30" y2="89.40" stroke="#000" stroke-width="1.3" />
<line x1="811.70" y1="89.40" x2="807.70" y2="89.40" stroke="#000" stroke-width="1.3" />
<line x1="447.30" y1="83.45" x2="451.30" y2="83.45" stroke="#000" stroke-width="1.3" />
<line x1="811.70" y1="83.45" x2="807.70" y2="83.45" stroke="#000" stroke-width="1.3" />
<line x1="447.30" y1="79.23" x2="451.30" y2="79.23" stroke="#000" stroke-width="1.3" />
<line x1="811.70" y1="79.23" x2="807.70" y2="79.23" stroke="#000" stroke-width="1.3" />
<line x1="447.30" y1="75.96" x2="451.30" y2="75.96" stroke="#000" stroke-width="1.3" />
<line x1="811.70" y1="75.96" x2="807.70" y2="75.96" stroke="#000" stroke-width="1.3" />
<line x1="447.30" y1="73.28" x2="451.30" y2="73.28" stroke="#000" stroke-width="1.3" />
<line x1="811.70" y1="73.28" x2="807.70" y2="73.28" stroke="#000" stroke-width="1.3" />
<line x1="447.30" y1="71.02" x2="451.30" y2="71.02" stroke="#000" stroke-width="1.3" />
<line x1="811.70" y1="71.02" x2="807.70" y2="71.02" stroke="#000" stroke-width="1.3" />
<line x1="447.30" y1="69.06" x2="451.30" y2="69.06" stroke="#000" stroke-width="1.3" />
<line x1="811.70" y1="69.06" x2="807.70" y2="69.06" stroke="#000" stroke-width="1.3" />
<line x1="447.30" y1="67.33" x2="451.30" y2="67.33" stroke="#000" stroke-width="1.3" />
<line x1="811.70" y1="67.33" x2="807.70" y2="67.33" stroke="#000" stroke-width="1.3" />
<line x1="447.30" y1="133.36" x2="454.30" y2="133.36" stroke="#000" stroke-width="1.3" />
<line x1="811.70" y1="133.36" x2="804.70" y2="133.36" stroke="#000" stroke-width="1.3" />
<line x1="447.30" y1="123.19" x2="451.30" y2="123.19" stroke="#000" stroke-width="1.3" />
<line x1="811.70" y1="123.19" x2="807.70" y2="123.19" stroke="#000" stroke-width="1.3" />
<line x1="447.30" y1="117.24" x2="451.30" y2="117.24" stroke="#000" stroke-width="1.3" />
<line x1="811.70" y1="117.24" x2="807.70" y2="117.24" stroke="#000" stroke-width="1.3" />
<line x1="447.30" y1="113.02" x2="451.30" y2="113.02" stroke="#000" stroke-width="1.3" />
<line x1="811.70" y1="113.02" x2="807.70" y2="113.02" stroke="#000" stroke-width="1.3" />
<line x1="447.30" y1="109.75" x2="451.30" y2="109.75" stroke="#000" stroke-width="1.3" />
<line x1="811.70" y1="109.75" x2="807.70" y2="109.75" stroke="#000" stroke-width="1.3" />
<line x1="447.30" y1="107.07" x2="451.30" y2="107.07" stroke="#000" stroke-width="1.3" />
<line x1="811.70" y1="107.07" x2="807.70" y2="107.07" stroke="#000" stroke-width="1.3" />
<line x1="447.30" y1="104.81" x2="451.30" y2="104.81" stroke="#000" stroke-width="1.3" />
<line x1="811.70" y1="104.81" x2="807.70" y2="104.81" stroke="#000" stroke-width="1.3" />
<line x1="447.30" y1="102.85" x2="451.30" y2="102.85" stroke="#000" stroke-width="1.3" />
<line x1="811.70" y1="102.85" x2="807.70" y2="102.85" stroke="#000" stroke-width="1.3" />
<line x1="447.30" y1="101.12" x2="451.30" y2="101.12" stroke="#000" stroke-width="1.3" />
<line x1="811.70" y1="101.12" x2="807.70" y2="101.12" stroke="#000" stroke-width="1.3" />
<line x1="447.30" y1="167.15" x2="454.30" y2="167.15" stroke="#000" stroke-width="1.3" />
<line x1="811.70" y1="167.15" x2="804.70" y2="167.15" stroke="#000" stroke-width="1.3" />
<line x1="447.30" y1="156.98" x2="451.30" y2="156.98" stroke="#000" stroke-width="1.3" />
<line x1="811.70" y1="156.98" x2="807.70" y2="156.98" stroke="#000" stroke-width="1.3" />
<line x1="447.30" y1="151.03" x2="451.30" y2="151.03" stroke="#000" stroke-width="1.3" />
<line x1="811.70" y1="151.03" x2="807.70" y2="151.03" stroke="#000" stroke-width="1.3" />
<line x1="447.30" y1="146.81" x2="451.30" y2="146.81" stroke="#000" stroke-width="1.3" />
<line x1="811.70" y1="146.81" x2="807.70" y2="146.81" stroke="#000" stroke-width="1.3" />
<line x1="447.30" y1="143.53" x2="451.30" y2="143.53" stroke="#000" stroke-width="1.3" />
<line x1="811.70" y1="143.53" x2="807.70" y2="143.53" stroke="#000" stroke-width="1.3" />
<line x1="447.30" y1="140.86" x2="451.30" y2="140.86" stroke="#000" stroke-width="1.3" />
<line x1="811.70" y1="140.86" x2="807.70" y2="140.86" stroke="#000" stroke-width="1.3" />
<line x1="447.30" y1="138.60" x2="451.30" y2="138.60" stroke="#000" stroke-width="1.3" />
<line x1="811.70" y1="138.60" x2="807.70" y2="138.60" stroke="#000" stroke-width="1.3" />
<line x1="447.30" y1="136.64" x2="451.30" y2="136.64" stroke="#000" stroke-width="1.3" />
<line x1="811.70" y1="136.64" x2="807.70" y2="136.64" stroke="#000" stroke-width="1.3" />
<line x1="447.30" y1="134.91" x2="451.30" y2="134.91" stroke="#000" stroke-width="1.3" />
<line x1="811.70" y1="134.91" x2="807.70" y2="134.91" stroke="#000" stroke-width="1.3" />
<line x1="447.30" y1="200.94" x2="454.30" y2="200.94" stroke="#000" stroke-width="1.3" />
<line x1="811.70" y1="200.94" x2="804.70" y2="200.94" stroke="#000" stroke-width="1.3" />
<line x1="447.30" y1="190.77" x2="451.30" y2="190.77" stroke="#000" stroke-width="1.3" />
<line x1="811.70" y1="190.77" x2="807.70" y2="190.77" stroke="#000" stroke-width="1.3" />
<line x1="447.30" y1="184.82" x2="451.30" y2="184.82" stroke="#000" stroke-width="1.3" />
<line x1="811.70" y1="184.82" x2="807.70" y2="184.82" stroke="#000" stroke-width="1.3" />
<line x1="447.30" y1="180.60" x2="451.30" y2="180.60" stroke="#000" stroke-width="1.3" />
<line x1="811.70" y1="180.60" x2="807.70" y2="180.60" stroke="#000" stroke-width="1.3" />
<line x1="447.30" y1="177.32" x2="451.30" y2="177.32" stroke="#000" stroke-width="1.3" />
<line x1="811.70" y1="177.32" x2="807.70" y2="177.32" stroke="#000" stroke-width="1.3" />
<line x1="447.30" y1="174.65" x2="451.30" y2="174.65" stroke="#000" stroke-width="1.3" />
<line x1="811.70" y1="174.65" x2="807.70" y2="174.65" stroke="#000" stroke-width="1.3" />
<line x1="447.30" y1="172.38" x2="451.30" y2="172.38" stroke="#000" stroke-width="1.3" />
<line x1="811.70" y1="172.38" x2="807.70" y2="172.38" stroke="#000" stroke-width="1.3" />
<line x1="447.30" y1="170.42" x2="451.30" y2="170.42" stroke="#000" stroke-width="1.3" />
<line x1="811.70" y1="170.42" x2="807.70" y2="170.42" stroke="#000" stroke-width="1.3" />
<line x1="447.30" y1="168.70" x2="451.30" y2="168.70" stroke="#000" stroke-width="1.3" />
<line x1="811.70" y1="168.70" x2="807.70" y2="168.70" stroke="#000" stroke-width="1.3" />
<line x1="447.30" y1="234.73" x2="454.30" y2="234.73" stroke="#000" stroke-width="1.3" />
<line x1="811.70" y1="234.73" x2="804.70" y2="234.73" stroke="#000" stroke-width="1.3" />
<line x1="447.30" y1="224.55" x2="451.30" y2="224.55" stroke="#000" stroke-width="1.3" />
<line x1="811.70" y1="224.55" x2="807.70" y2="224.55" stroke="#000" stroke-width="1.3" />
<line x1="447.30" y1="218.60" x2="451.30" y2="218.60" stroke="#000" stroke-width="1.3" />
<line x1="811.70" y1="218.60" x2="807.70" y2="218.60" stroke="#000" stroke-width="1.3" />
<line x1="447.30" y1="214.38" x2="451.30" y2="214.38" stroke="#000" stroke-width="1.3" />
<line x1="811.70" y1="214.38" x2="807.70" y2="214.38" stroke="#000" stroke-width="1.3" />
<line x1="447.30" y1="211.11" x2="451.30" y2="211.11" stroke="#000" stroke-width="1.3" />
<line x1="811.70" y1="211.11" x2="807.70" y2="211.11" stroke="#000" stroke-width="1.3" />
<line x1="447.30" y1="208.43" x2="451.30" y2="208.43" stroke="#000" stroke-width="1.3" />
<line x1="811.70" y1="208.43" x2="807.70" y2="208.43" stroke="#000" stroke-width="1.3" />
<line x1="447.30" y1="206.17" x2="451.30" y2="206.17" stroke="#000" stroke-width="1.3" />
<line x1="811.70" y1="206.17" x2="807.70" y2="206.17" stroke="#000" stroke-width="1.3" />
<line x1="447.30" y1="204.21" x2="451.30" y2="204.21" stroke="#000" stroke-width="1.3" />
<line x1="811.70" y1="204.21" x2="807.70" y2="204.21" stroke="#000" stroke-width="1.3" />
<line x1="447.30" y1="202.48" x2="451.30" y2="202.48" stroke="#000" stroke-width="1.3" />
<line x1="811.70" y1="202.48" x2="807.70" y2="202.48" stroke="#000" stroke-width="1.3" />
<line x1="447.30" y1="268.51" x2="454.30" y2="268.51" stroke="#000" stroke-width="1.3" />
<line x1="811.70" y1="268.51" x2="804.70" y2="268.51" stroke="#000" stroke-width="1.3" />
<line x1="447.30" y1="258.34" x2="451.30" y2="258.34" stroke="#000" stroke-width="1.3" />
<line x1="811.70" y1="258.34" x2="807.70" y2="258.34" stroke="#000" stroke-width="1.3" />
<line x1="447.30" y1="252.39" x2="451.30" y2="252.39" stroke="#000" stroke-width="1.3" />
<line x1="811.70" y1="252.39" x2="807.70" y2="252.39" stroke="#000" stroke-width="1.3" />
<line x1="447.30" y1="248.17" x2="451.30" y2="248.17" stroke="#000" stroke-width="1.3" />
<line x1="811.70" y1="248.17" x2="807.70" y2="248.17" stroke="#000" stroke-width="1.3" />
<line x1="447.30" y1="244.90" x2="451.30" y2="244.90" stroke="#000" stroke-width="1.3" />
<line x1="811.70" y1="244.90" x2="807.70" y2="244.90" stroke="#000" stroke-width="1.3" />
<line x1="447.30" y1="242.22" x2="451.30" y2="242.22" stroke="#000" stroke-width="1.3" />
<line x1="811.70" y1="242.22" x2="807.70" y2="242.22" stroke="#000" stroke-width="1.3" />
<line x1="447.30" y1="239.96" x2="451.30" y2="239.96" stroke="#000" stroke-width="1.3" />
<line x1="811.70" y1="239.96" x2="807.70" y2="239.96" stroke="#000" stroke-width="1.3" />
<line x1="447.30" y1="238.00" x2="451.30" y2="238.00" stroke="#000" stroke-width="1.3" />
<line x1="811.70" y1="238.00" x2="807.70" y2="238.00" stroke="#000" stroke-width="1.3" />
<line x1="447.30" y1="236.27" x2="451.30" y2="236.27" stroke="#000" stroke-width="1.3" />
<line x1="811.70" y1="236.27" x2="807.70" y2="236.27" stroke="#000" stroke-width="1.3" />
<line x1="447.30" y1="302.30" x2="454.30" y2="302.30" stroke="#000" stroke-width="1.3" />
<line x1="811.70" y1="302.30" x2="804.70" y2="302.30" stroke="#000" stroke-width="1.3" />
<line x1="447.30" y1="292.13" x2="451.30" y2="292.13" stroke="#000" stroke-width="1.3" />
<line x1="811.70" y1="292.13" x2="807.70" y2="292.13" stroke="#000" stroke-width="1.3" />
<line x1="447.30" y1="286.18" x2="451.30" y2="286.18" stroke="#000" stroke-width="1.3" />
<line x1="811.70" y1="286.18" x2="807.70" y2="286.18" stroke="#000" stroke-width="1.3" />
<line x1="447.30" y1="281.96" x2="451.30" y2="281.96" stroke="#000" stroke-width="1.3" />
<line x1="811.70" y1="281.96" x2="807.70" y2="281.96" stroke="#000" stroke-width="1.3" />
<line x1="447.30" y1="278.68" x2="451.30" y2="278.68" stroke="#000" stroke-width="1.3" />
<line x1="811.70" y1="278.68" x2="807.70" y2="278.68" stroke="#000" stroke-width="1.3" />
<line x1="447.30" y1="276.01" x2="451.30" y2="276.01" stroke="#000" stroke-width="1.3" />
<line x1="811.70" y1="276.01" x2="807.70" y2="276.01" stroke="#000" stroke-width="1.3" />
<line x1="447.30" y1="273.75" x2="451.30" y2="273.75" stroke="#000" stroke-width="1.3" />
<line x1="811.70" y1="273.75" x2="807.70" y2="273.75" stroke="#000" stroke-width="1.3" />
<line x1="447.30" y1="271.79" x2="451.30" y2="271.79" stroke="#000" stroke-width="1.3" />
<line x1="811.70" y1="271.79" x2="807.70" y2="271.79" stroke="#000" stroke-width="1.3" />
<line x1="447.30" y1="270.06" x2="451.30" y2="270.06" stroke="#000" stroke-width="1.3" />
<line x1="811.70" y1="270.06" x2="807.70" y2="270.06" stroke="#000" stroke-width="1.3" />
<line x1="487.79" y1="302.30" x2="487.79" y2="296.30" stroke="#000" stroke-width="1.3" />
<line x1="487.79" y1="32.00" x2="487.79" y2="38.00" stroke="#000" stroke-width="1.3" />
<line x1="568.77" y1="302.30" x2="568.77" y2="296.30" stroke="#000" stroke-width="1.3" />
<line x1="568.77" y1="32.00" x2="568.77" y2="38.00" stroke="#000" stroke-width="1.3" />
<line x1="649.74" y1="302.30" x2="649.74" y2="296.30" stroke="#000" stroke-width="1.3" />
<line x1="649.74" y1="32.00" x2="649.74" y2="38.00" stroke="#000" stroke-width="1.3" />
<line x1="730.72" y1="302.30" x2="730.72" y2="296.30" stroke="#000" stroke-width="1.3" />
<line x1="730.72" y1="32.00" x2="730.72" y2="38.00" stroke="#000" stroke-width="1.3" />
<line x1="528.28" y1="302.30" x2="528.28" y2="299.10" stroke="#000" stroke-width="1.3" />
<line x1="528.28" y1="32.00" x2="528.28" y2="35.20" stroke="#000" stroke-width="1.3" />
<line x1="609.26" y1="302.30" x2="609.26" y2="299.10" stroke="#000" stroke-width="1.3" />
<line x1="609.26" y1="32.00" x2="609.26" y2="35.20" stroke="#000" stroke-width="1.3" />
<line x1="690.23" y1="302.30" x2="690.23" y2="299.10" stroke="#000" stroke-width="1.3" />
<line x1="690.23" y1="32.00" x2="690.23" y2="35.20" stroke="#000" stroke-width="1.3" />
<line x1="771.21" y1="302.30" x2="771.21" y2="299.10" stroke="#000" stroke-width="1.3" />
<line x1="771.21" y1="32.00" x2="771.21" y2="35.20" stroke="#000" stroke-width="1.3" />
<text x="447.90" y="320.60" font-family='"Liberation Serif", serif' font-size="16.4" fill="#000" text-anchor="middle"  >1</text>
<text x="488.39" y="320.60" font-family='"Liberation Serif", serif' font-size="16.4" fill="#000" text-anchor="middle"  >2</text>
<text x="569.37" y="320.60" font-family='"Liberation Serif", serif' font-size="16.4" fill="#000" text-anchor="middle"  >4</text>
<text x="650.34" y="320.60" font-family='"Liberation Serif", serif' font-size="16.4" fill="#000" text-anchor="middle"  >6</text>
<text x="731.32" y="320.60" font-family='"Liberation Serif", serif' font-size="16.4" fill="#000" text-anchor="middle"  >8</text>
<text x="812.30" y="320.60" font-family='"Liberation Serif", serif' font-size="16.4" fill="#000" text-anchor="middle"  >10</text>
<text x="442.00" y="37.80" font-family='"Liberation Serif", serif' font-size="16.4" fill="#000" text-anchor="end"  >1</text>
<text x="430.40" y="108.48" font-family='"Liberation Serif", serif' font-size="16.4" fill="#000" text-anchor="end"  >10</text>
<text x="430.40" y="98.58" font-family='"Liberation Serif", serif' font-size="11.8" fill="#000" text-anchor="start"  >-2</text>
<text x="430.40" y="176.05" font-family='"Liberation Serif", serif' font-size="16.4" fill="#000" text-anchor="end"  >10</text>
<text x="430.40" y="166.15" font-family='"Liberation Serif", serif' font-size="11.8" fill="#000" text-anchor="start"  >-4</text>
<text x="430.40" y="243.63" font-family='"Liberation Serif", serif' font-size="16.4" fill="#000" text-anchor="end"  >10</text>
<text x="430.40" y="233.73" font-family='"Liberation Serif", serif' font-size="11.8" fill="#000" text-anchor="start"  >-6</text>
<text x="430.40" y="311.20" font-family='"Liberation Serif", serif' font-size="16.4" fill="#000" text-anchor="end"  >10</text>
<text x="430.40" y="301.30" font-family='"Liberation Serif", serif' font-size="11.8" fill="#000" text-anchor="start"  >-8</text>
<text x="629.70" y="335.60" font-family='"Liberation Serif", serif' font-size="18.2" fill="#000" text-anchor="middle"  >Ω</text>
<text x="413.20" y="22.50" font-family='"Liberation Serif", serif' font-size="16.7" fill="#000" text-anchor="start"  >Rate</text>
<text x="448.20" y="22.50" font-family='"Liberation Sans", sans-serif' font-size="16.5" fill="#000" text-anchor="start"  >x</text>
<text x="463.60" y="22.50" font-family='"Liberation Serif", serif' font-size="17.0" fill="#000" text-anchor="start" font-style="italic" >g</text>
<text x="471.70" y="12.30" font-family='"Liberation Serif", serif' font-size="11.8" fill="#000" text-anchor="start"  >-2</text>
<text x="457.70" y="51.30" font-family='"Liberation Serif", serif' font-size="17.0" fill="#000" text-anchor="start"  >(b)</text>
<rect x="713.20" y="48.20" width="5.6" height="5.6" fill="#fff" stroke="#000" stroke-width="1.2"/>
<text x="730.00" y="56.50" font-family='"Liberation Serif", serif' font-size="17.0" fill="#000" text-anchor="start"  >NLCE-17</text>
<rect x="712.70" y="66.70" width="6.6" height="6.6" fill="#000" />
<text x="730.00" y="75.60" font-family='"Liberation Serif", serif' font-size="17.0" fill="#000" text-anchor="start"  >NLCE-18</text>
<rect x="732.85" y="106.15" width="7.1" height="7.1" fill="#ff0000" />
<text x="750.00" y="114.30" font-family='"Liberation Serif", serif' font-size="17.0" fill="#000" text-anchor="start"  ><tspan font-style="italic">g</tspan> = 0.2</text>
<polygon points="736.80,136.96 732.40,129.26 741.20,129.26" fill="#0000ff" />
<text x="750.00" y="136.60" font-family='"Liberation Serif", serif' font-size="17.0" fill="#000" text-anchor="start"  ><tspan font-style="italic">g</tspan> = 0.3</text>
<polyline points="667.20,199.70 708.00,199.70" fill="none" stroke="#9400d3" stroke-width="2.0" stroke-dasharray="14.2 6" />
<polyline points="667.20,224.90 708.00,224.90" fill="none" stroke="#ffa500" stroke-width="2.0" stroke-dasharray="10 6 2 6" />
<polyline points="667.20,253.20 708.00,253.20" fill="none" stroke="#008b00" stroke-width="2.0" stroke-dasharray="1.8 6 14.6 6" />
<line x1="667.20" y1="282.20" x2="708.00" y2="282.20" stroke="#000" stroke-width="1.3" />
<text x="722.00" y="209.20" font-family='"Liberation Serif", serif' font-size="17.0" fill="#000" text-anchor="start"  >Γ</text>
<text x="736.80" y="198.80" font-family='"Liberation Serif", serif' font-size="11.8" fill="#000" text-anchor="start"  >20</text>
<text x="722.00" y="234.90" font-family='"Liberation Serif", serif' font-size="17.0" fill="#000" text-anchor="start"  >Γ</text>
<text x="736.80" y="224.30" font-family='"Liberation Serif", serif' font-size="11.8" fill="#000" text-anchor="start"  >21</text>
<text x="722.00" y="259.40" font-family='"Liberation Serif", serif' font-size="17.0" fill="#000" text-anchor="start"  >Γ</text>
<text x="731.00" y="266.40" font-family='"Liberation Serif", serif' font-size="12.3" fill="#000" text-anchor="start"  ><tspan font-style="italic">m</tspan>=1</text>
<text x="754.70" y="249.30" font-family='"Liberation Serif", serif' font-size="11.8" fill="#000" text-anchor="start"  >21</text>
<text x="721.70" y="291.00" font-family='"Liberation Serif", serif' font-size="17.0" fill="#000" text-anchor="start"  >e</text>
<text x="729.60" y="281.30" font-family='"Liberation Serif", serif' font-size="11.8" fill="#000" text-anchor="start"  >-4.85Ω</text>
<rect x="497.5" y="85.5" width="148.5" height="186.60000000000002" fill="#fff"/>
<defs><clipPath id="clipRI"><rect x="497.5" y="85.5" width="148.5" height="186.60000000000002"/></clipPath></defs>
<line x1="497.50" y1="118.00" x2="646.00" y2="121.60" stroke="#000" stroke-width="1.3" />
<line x1="497.50" y1="119.50" x2="646.00" y2="172.80" stroke="#000" stroke-width="1.3" />
<line x1="499.70" y1="122.60" x2="646.00" y2="230.40" stroke="#000" stroke-width="1.3" />
<polyline points="497.50,117.50 646.00,122.30" fill="none" stroke="#ff0000" stroke-width="1.7" stroke-dasharray="10.9 4.4" clip-path="url(#clipRI)"/>
<polyline points="500.50,118.30 646.00,121.70" fill="none" stroke="#ff0000" stroke-width="1.9" stroke-dasharray="2 6.2" clip-path="url(#clipRI)"/>
<polyline points="497.50,117.30 499.50,120.80 600.00,157.20 646.00,174.20" fill="none" stroke="#008b00" stroke-width="1.7" stroke-dasharray="10.9 4.4" clip-path="url(#clipRI)"/>
<polyline points="497.50,117.30 499.50,120.80 545.00,137.60 565.00,146.00 600.00,160.50 646.00,177.50" fill="none" stroke="#008b00" stroke-width="2.0" stroke-dasharray="2 6.2" clip-path="url(#clipRI)"/>
<polyline points="497.50,117.30 502.00,127.30 541.90,153.50 572.40,180.00 600.00,204.00 644.40,244.40" fill="none" stroke="#0000ff" stroke-width="1.7" stroke-dasharray="10.9 4.4" clip-path="url(#clipRI)"/>
<polyline points="497.50,117.30 502.00,127.30 536.00,149.30 541.90,152.50 598.00,184.70 646.00,212.90" fill="none" stroke="#0000ff" stroke-width="2.0" stroke-dasharray="2 6.2" clip-path="url(#clipRI)"/>
<rect x="497.50" y="85.50" width="148.50" height="186.60" fill="none" stroke="#000" stroke-width="1.0"/>
<line x1="497.50" y1="258.99" x2="503.70" y2="258.99" stroke="#000" stroke-width="1.0" />
<line x1="646.00" y1="258.99" x2="639.80" y2="258.99" stroke="#000" stroke-width="1.0" />
<line x1="497.50" y1="229.55" x2="500.30" y2="229.55" stroke="#000" stroke-width="1.0" />
<line x1="646.00" y1="229.55" x2="643.20" y2="229.55" stroke="#000" stroke-width="1.0" />
<line x1="497.50" y1="204.04" x2="500.30" y2="204.04" stroke="#000" stroke-width="1.0" />
<line x1="646.00" y1="204.04" x2="643.20" y2="204.04" stroke="#000" stroke-width="1.0" />
<line x1="497.50" y1="181.55" x2="503.70" y2="181.55" stroke="#000" stroke-width="1.0" />
<line x1="646.00" y1="181.55" x2="639.80" y2="181.55" stroke="#000" stroke-width="1.0" />
<line x1="497.50" y1="161.42" x2="500.30" y2="161.42" stroke="#000" stroke-width="1.0" />
<line x1="646.00" y1="161.42" x2="643.20" y2="161.42" stroke="#000" stroke-width="1.0" />
<line x1="497.50" y1="143.22" x2="500.30" y2="143.22" stroke="#000" stroke-width="1.0" />
<line x1="646.00" y1="143.22" x2="643.20" y2="143.22" stroke="#000" stroke-width="1.0" />
<line x1="497.50" y1="126.60" x2="503.70" y2="126.60" stroke="#000" stroke-width="1.0" />
<line x1="646.00" y1="126.60" x2="639.80" y2="126.60" stroke="#000" stroke-width="1.0" />
<line x1="497.50" y1="111.31" x2="500.30" y2="111.31" stroke="#000" stroke-width="1.0" />
<line x1="646.00" y1="111.31" x2="643.20" y2="111.31" stroke="#000" stroke-width="1.0" />
<line x1="497.50" y1="97.16" x2="500.30" y2="97.16" stroke="#000" stroke-width="1.0" />
<line x1="646.00" y1="97.16" x2="643.20" y2="97.16" stroke="#000" stroke-width="1.0" />
<line x1="556.90" y1="272.10" x2="556.90" y2="265.90" stroke="#000" stroke-width="1.0" />
<line x1="556.90" y1="85.50" x2="556.90" y2="91.70" stroke="#000" stroke-width="1.0" />
<line x1="616.30" y1="272.10" x2="616.30" y2="265.90" stroke="#000" stroke-width="1.0" />
<line x1="616.30" y1="85.50" x2="616.30" y2="91.70" stroke="#000" stroke-width="1.0" />
<line x1="527.20" y1="272.10" x2="527.20" y2="269.30" stroke="#000" stroke-width="1.0" />
<line x1="527.20" y1="85.50" x2="527.20" y2="88.30" stroke="#000" stroke-width="1.0" />
<line x1="586.60" y1="272.10" x2="586.60" y2="269.30" stroke="#000" stroke-width="1.0" />
<line x1="586.60" y1="85.50" x2="586.60" y2="88.30" stroke="#000" stroke-width="1.0" />
<text x="497.50" y="291.00" font-family='"Liberation Serif", serif' font-size="16.4" fill="#000" text-anchor="middle"  >0</text>
<text x="556.90" y="291.00" font-family='"Liberation Serif", serif' font-size="16.4" fill="#000" text-anchor="middle"  >20</text>
<text x="616.30" y="291.00" font-family='"Liberation Serif", serif' font-size="16.4" fill="#000" text-anchor="middle"  >40</text>
<text x="586.50" y="297.60" font-family='"Liberation Serif", serif' font-size="20" fill="#000" text-anchor="middle" font-style="italic" >τ</text>
<text x="491.00" y="265.29" font-family='"Liberation Serif", serif' font-size="16.4" fill="#000" text-anchor="end"  >6</text>
<text x="491.00" y="187.85" font-family='"Liberation Serif", serif' font-size="16.4" fill="#000" text-anchor="end"  >9</text>
<text x="491.00" y="132.90" font-family='"Liberation Serif", serif' font-size="16.4" fill="#000" text-anchor="end"  >12</text>
<text transform="translate(473.6,192.5) rotate(-90)" letter-spacing="0.6" font-family='"Liberation Serif", serif' font-size="17.5" text-anchor="middle">|<tspan font-style="italic">e</tspan> (<tspan font-style="italic">τ</tspan>)| <tspan font-family='"Liberation Sans", sans-serif' font-size="15.5">x</tspan> 10<tspan dy="-8.5" font-size="12">3</tspan></text>
<text x="510.00" y="108.80" font-family='"Liberation Serif", serif' font-size="17.0" fill="#000" text-anchor="start"  ><tspan font-style="italic">g</tspan> = 0.3</text>
<text x="579.00" y="115.00" font-family='"Liberation Serif", serif' font-size="17.0" fill="#ff0000" text-anchor="start"  >T = 0.84</text>
<text x="582.50" y="147.50" font-family='"Liberation Serif", serif' font-size="17.0" fill="#008b00" text-anchor="start"  >T = 1.1</text>
<text x="515.00" y="192.00" font-family='"Liberation Serif", serif' font-size="17.0" fill="#0000ff" text-anchor="start"  >T = 2.0</text>
<line x1="510.30" y1="216.90" x2="537.40" y2="216.90" stroke="#000" stroke-width="1.4" />
<text x="551.30" y="221.70" font-family='"Liberation Serif", serif' font-size="17.0" fill="#000" text-anchor="start"  >Exp fit</text>
<polyline points="510.30,237.70 538.00,237.70" fill="none" stroke="#000" stroke-width="2.1" stroke-dasharray="2 6.25" />
<text x="551.30" y="243.30" font-family='"Liberation Serif", serif' font-size="17.0" fill="#000" text-anchor="start"  >NLCE-17</text>
<polyline points="510.30,256.10 536.50,256.10" fill="none" stroke="#000" stroke-width="2.1" stroke-dasharray="10.9 4.4" />
<text x="551.30" y="262.50" font-family='"Liberation Serif", serif' font-size="17.0" fill="#000" text-anchor="start"  >NLCE-18</text>
</svg></body></html>
